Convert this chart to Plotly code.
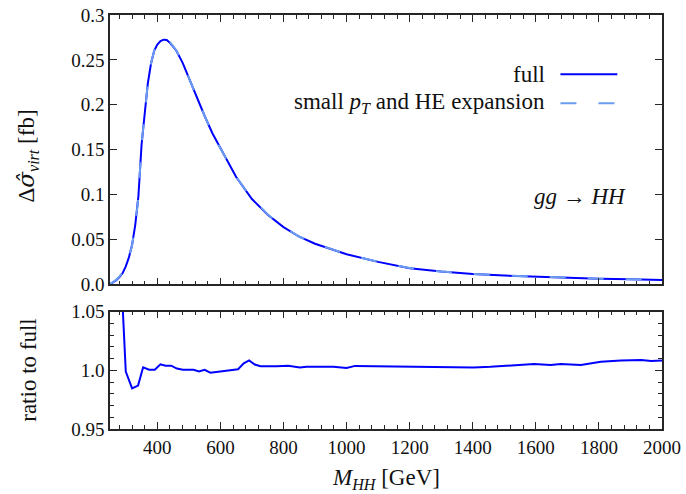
import plotly.graph_objects as go

# ---------------- data ----------------
m_top = [250, 260, 270, 280, 290, 300, 310, 320, 330, 340, 350, 360, 370, 380, 390,
         400, 410, 420, 430, 440, 460, 480, 500, 525, 550, 575, 600, 650, 700, 750,
         800, 850, 900, 950, 1000, 1100, 1200, 1300, 1400, 1500, 1600, 1700, 1800,
         1900, 2000]
sigma_full = [0.0, 0.002, 0.0045, 0.008, 0.0125, 0.020, 0.030, 0.044, 0.066, 0.098,
              0.155, 0.190, 0.224, 0.246, 0.260, 0.267, 0.271, 0.2725, 0.2722, 0.269,
              0.2605, 0.247, 0.2295, 0.208, 0.1875, 0.168, 0.1515, 0.1195, 0.095,
              0.0775, 0.0637, 0.053, 0.0452, 0.039, 0.0335, 0.025, 0.018, 0.0143,
              0.0115, 0.0098, 0.0085, 0.0073, 0.0063, 0.0055, 0.0048]
sigma_exp = [0.0, 0.0024, 0.0052, 0.0088, 0.0131, 0.020, 0.0297, 0.0434, 0.0652, 0.0975,
             0.1555, 0.1902, 0.2241, 0.2461, 0.2601, 0.2680, 0.2725, 0.2736, 0.2733, 0.2699,
             0.2608, 0.2471, 0.2296, 0.2079, 0.1875, 0.1677, 0.1513, 0.1194, 0.0958,
             0.0778, 0.0640, 0.0531, 0.0453, 0.0391, 0.0336, 0.0251, 0.0181, 0.0143,
             0.0115, 0.0098, 0.0085, 0.0073, 0.0063, 0.0055, 0.0048]

m_ratio = [270, 280, 290, 300, 320, 339, 355, 374, 392, 410, 426, 444, 462, 481, 515,
           532, 550, 568, 603, 640, 656, 674, 691, 709, 727, 778, 815, 852, 873, 958,
           1000, 1027, 1117, 1202, 1318, 1403, 1456, 1530, 1594, 1647, 1679, 1743,
           1806, 1870, 1934, 1966, 2000]
ratio = [1.20, 1.12, 1.055, 0.999, 0.9846, 0.987, 1.0026, 1.0005, 1.0005, 1.0051,
         1.004, 1.004, 1.0015, 1.0005, 1.0005, 0.999, 1.0005, 0.998, 0.999, 1.0,
         1.001, 1.006, 1.0085, 1.005, 1.0035, 1.0035, 1.004, 1.0025, 1.003, 1.003,
         1.002, 1.0038, 1.0035, 1.0026, 1.0022, 1.0025, 1.003, 1.0045, 1.0054,
         1.0045, 1.0054, 1.0045, 1.0073, 1.0085, 1.0088, 1.008, 1.0085]

x_ticks = [400, 600, 800, 1000, 1200, 1400, 1600, 1800, 2000]
y_top_ticks = [0.0, 0.05, 0.1, 0.15, 0.2, 0.25, 0.3]
y_top_labels = ["0.0", "0.05", "0.1", "0.15", "0.2", "0.25", "0.3"]
y_bot_ticks = [0.95, 1.0, 1.05]
y_bot_labels = ["0.95", "1.0", "1.05"]

# ---------------- styling ----------------
FONT = "Liberation Serif, Times New Roman, serif"
FULL_COL = "#0000ff"
EXP_COL = "#6a9cf0"
AX_COL = "#262626"
TXT_COL = "#111111"
TICK_SIZE = 19
TEXT_SIZE = 23

fig = go.Figure()
fig.add_trace(go.Scatter(x=m_top, y=sigma_full, mode="lines", name="full",
                         line=dict(color=FULL_COL, width=2), xaxis="x", yaxis="y",
                         showlegend=False))
fig.add_trace(go.Scatter(x=m_top, y=sigma_exp, mode="lines",
                         name="small p_T and HE expansion",
                         line=dict(color=EXP_COL, width=2, dash="16px,22px"),
                         xaxis="x", yaxis="y", showlegend=False))
fig.add_trace(go.Scatter(x=m_ratio, y=ratio, mode="lines", name="ratio",
                         line=dict(color=FULL_COL, width=2), xaxis="x2", yaxis="y2",
                         showlegend=False))

axis_common = dict(showline=True, linecolor=AX_COL, linewidth=1.5, mirror="allticks",
                   ticks="inside", ticklen=7, tickwidth=1, tickcolor=AX_COL,
                   showgrid=False, zeroline=False, automargin=False,
                   tickfont=dict(family=FONT, size=TICK_SIZE, color=TXT_COL))

top_dom = [0.3495, 1.0]
bot_dom = [0.0, 0.2833]

fig.update_layout(
    width=686, height=494,
    margin=dict(l=110, r=24, t=15, b=65),
    paper_bgcolor="white", plot_bgcolor="white",
    font=dict(family=FONT, size=TICK_SIZE, color=TXT_COL),
    xaxis=dict(**axis_common, domain=[0, 1], anchor="y", range=[250, 2000],
               tickvals=x_ticks, showticklabels=False,
               minor=dict(dtick=40, tick0=0, ticklen=4, ticks="inside", tickcolor=AX_COL)),
    yaxis=dict(**axis_common, domain=top_dom, anchor="x", range=[0, 0.3],
               tickvals=y_top_ticks, ticktext=y_top_labels),
    xaxis2=dict(**axis_common, domain=[0, 1], anchor="y2", matches="x", range=[250, 2000],
                tickvals=x_ticks,
                minor=dict(dtick=40, tick0=0, ticklen=4, ticks="inside", tickcolor=AX_COL)),
    yaxis2=dict(**axis_common, domain=bot_dom, anchor="x2", range=[0.95, 1.05],
                tickvals=y_bot_ticks, ticktext=y_bot_labels,
                minor=dict(dtick=0.01, tick0=0.95, ticklen=4, ticks="inside", tickcolor=AX_COL)),
)

# axis titles
title_font = dict(family=FONT, size=TEXT_SIZE, color=TXT_COL)
fig.add_annotation(xref="paper", yref="paper", x=-0.149, y=0.66, textangle=-90,
                   text="Δ<span style=\"font-family:'DejaVu Serif'\"><i>σ̂</i></span>"
                        "<sub><i>virt</i></sub> [fb]",
                   showarrow=False, xanchor="center", yanchor="middle", font=title_font)
fig.add_annotation(xref="paper", yref="paper", x=-0.149, y=0.1425, textangle=-90,
                   text="ratio to full", showarrow=False,
                   xanchor="center", yanchor="middle", font=title_font)
fig.add_annotation(xref="paper", yref="paper", x=0.5, y=-0.12,
                   text="<i>M</i><sub><i>HH</i></sub> [GeV]", showarrow=False,
                   xanchor="center", yanchor="middle", font=title_font)

# legend (text right-aligned, key on the right, as in the reference)
leg_x_text = 0.791
leg_key = [0.816, 0.919]
leg_rows = [(0.857, "full", dict(color=FULL_COL, width=2, dash="solid")),
            (0.787, "small <i>p</i><sub><i>T</i></sub> and HE expansion",
             dict(color=EXP_COL, width=2, dash="16px,22px"))]
for yy, txt, ln in leg_rows:
    fig.add_annotation(xref="paper", yref="paper", x=leg_x_text, y=yy, text=txt,
                       showarrow=False, xanchor="right", yanchor="middle",
                       font=dict(family=FONT, size=TEXT_SIZE, color=TXT_COL))
    fig.add_shape(type="line", xref="paper", yref="paper", x0=leg_key[0], x1=leg_key[1],
                  y0=yy, y1=yy, line=ln)

fig.add_annotation(xref="paper", yref="paper", x=0.939, y=0.561,
                   text="<i>gg</i> → <i>HH</i>", showarrow=False,
                   xanchor="right", yanchor="middle",
                   font=dict(family=FONT, size=TEXT_SIZE, color=TXT_COL))

fig.write_html("out.html", config={"displayModeBar": False},
               post_script="document.body.style.margin='0';")
